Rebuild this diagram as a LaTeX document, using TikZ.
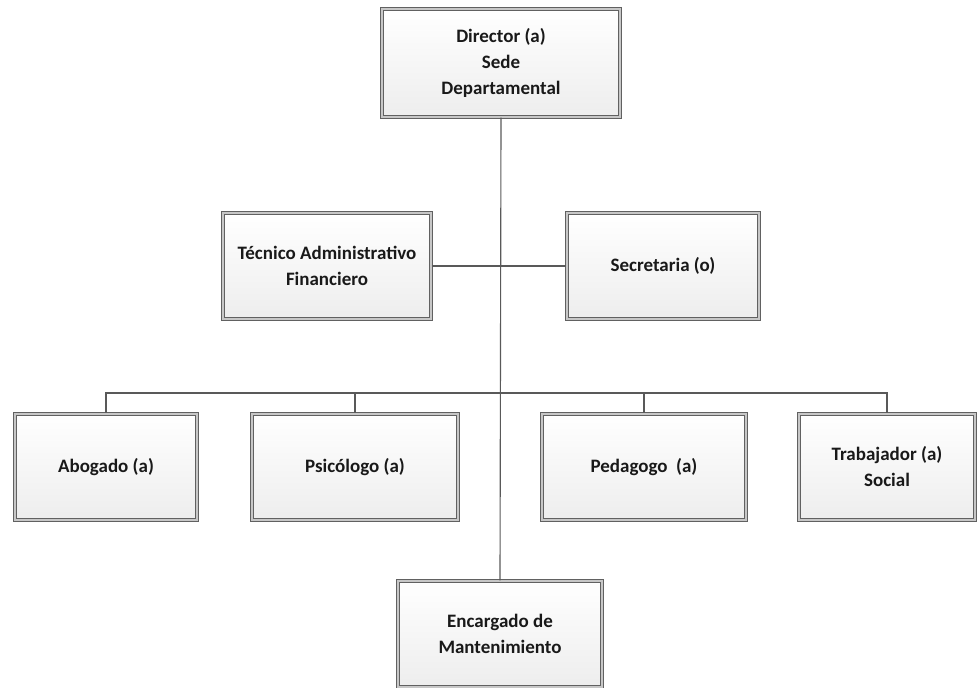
\documentclass[tikz,border=0pt]{standalone}
\usepackage{fontspec}
\setmainfont{Carlito}
\tikzset{
  cargo/.style={draw=black!62, double=black!22, double distance=1pt, line width=1pt,
    top color=white, bottom color=black!7, align=center, font=\bfseries\fontsize{13.5}{18.5}\selectfont,
    text=black!90, inner sep=2pt},
  linea/.style={draw=black!65, line width=0.8pt}
}
\begin{document}
\begin{tikzpicture}[x=0.025cm,y=-0.025cm]
\useasboundingbox (0,0) rectangle (979,688);
\node[cargo, minimum width=5.95cm, minimum height=2.7cm] (director) at (501,63) {Director (a)\\Sede\\Departamental};
\node[cargo, minimum width=5.2cm, minimum height=2.65cm] (tecnico) at (327,266) {Técnico Administrativo\\Financiero};
\node[cargo, minimum width=4.8cm, minimum height=2.65cm] (secretaria) at (663,266) {Secretaria (o)};
\node[cargo, minimum width=4.55cm, minimum height=2.65cm] (abogado) at (106,467) {Abogado (a)};
\node[cargo, minimum width=5.15cm, minimum height=2.65cm] (psicologo) at (355,467) {Psicólogo (a)};
\node[cargo, minimum width=5.1cm, minimum height=2.65cm] (pedagogo) at (644,467) {Pedagogo~~(a)};
\node[cargo, minimum width=4.4cm, minimum height=2.65cm] (trabajador) at (887,467) {Trabajador (a)\\Social};
\node[cargo, minimum width=5.1cm, minimum height=2.65cm] (encargado) at (500,634) {Encargado de\\Mantenimiento};
\coordinate (bus) at (500,393);
% lineas de mando
\draw[linea] (director.south) -- (encargado.north);
\draw[linea] (tecnico.east) -- (secretaria.west);
\draw[linea] (bus) -| (abogado.north);
\draw[linea] (bus) -| (psicologo.north);
\draw[linea] (bus) -| (pedagogo.north);
\draw[linea] (bus) -| (trabajador.north);
\end{tikzpicture}
\end{document}
